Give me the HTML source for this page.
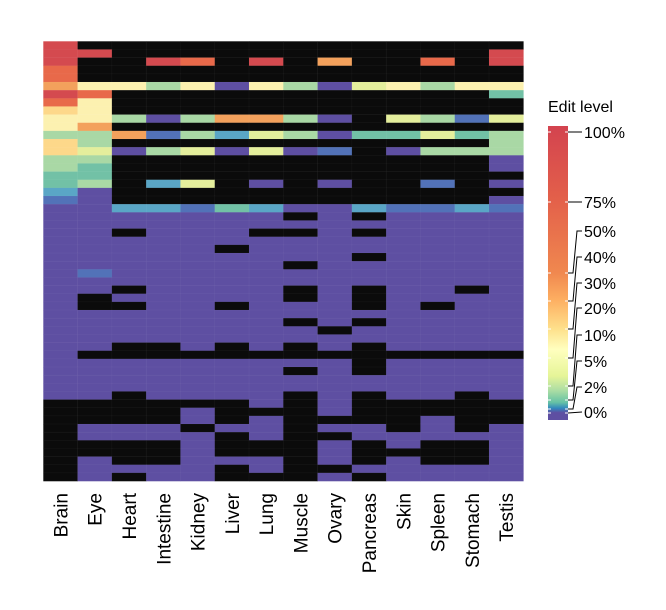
<!DOCTYPE html>
<html><head><meta charset="utf-8"><style>
html,body{margin:0;padding:0;background:#fff;}
svg{display:block;font-family:"Liberation Sans",Arial,sans-serif;}
</style></head><body>
<svg id="chart" width="666" height="610" viewBox="0 0 666 610">
<defs>
<linearGradient id="cbar" x1="0" y1="1" x2="0" y2="0">
<stop offset="0" stop-color="#5e4fa2"/>
<stop offset="0.025" stop-color="#5e4fa2"/>
<stop offset="0.04" stop-color="#3288bd"/>
<stop offset="0.06" stop-color="#66c2a5"/>
<stop offset="0.1" stop-color="#abdda4"/>
<stop offset="0.15" stop-color="#e6f598"/>
<stop offset="0.24" stop-color="#ffffbf"/>
<stop offset="0.31" stop-color="#fee08b"/>
<stop offset="0.41" stop-color="#fdae61"/>
<stop offset="0.5" stop-color="#f0884f"/>
<stop offset="0.75" stop-color="#e3604a"/>
<stop offset="1" stop-color="#d3434f"/>
</linearGradient>
</defs>
<g id="cells"></g>
<g id="xlabels"></g>
<g id="legend">
<text x="548" y="112" font-size="16" fill="#000">Edit level</text>
<rect x="548" y="126" width="20" height="294" fill="url(#cbar)"/>
</g>
</svg>
<script>
const categories = ["Brain","Eye","Heart","Intestine","Kidney","Liver","Lung","Muscle","Ovary","Pancreas","Skin","Spleen","Stomach","Testis"];
const palette = {R:"#d44a4f",O:"#e8694a",A:"#f3a15c",W:"#fdd88a",Y:"#fcf1b0",L:"#e4ee9c",G:"#a9d8a5",T:"#72c1a6",C:"#5aa6c6",B:"#5272b8",P:"#5e4fa2",K:"#0b0b0b"};
const rows = [
"RKKKKKKKKKKKKK","RRKKKKKKKKKKKR","RKKROKRKAKKOKR","OKKKKKKKKKKKKK","OKKKKKKKKKKKKK",
"AYYGYPYGPLYGYY","ROKKKKKKKKKKKT","OYKKKKKKKKKKKK","WYKKKKKKKKKKKK","YYGPGAAGPKLGBL",
"YAKKKKKKKKKKKK","GGABGCLGPTTLTG","WGKKKKKKKKKKKG","WLPGLPLPBKPGGG","GGKKKKKKKKKKKP",
"GTKKKKKKKKKKKP","TTKKKKKKKKKKKK","TGKCLKPKPKKBKP","CPKKKKKKKKKKKK","BPKKKKKKKKKKKP",
"PPCCBTCPPCBBCB","PPPPPPPKPKPPPP","PPPPPPPPPPPPPP","PPKPPPKKPKPPPP","PPPPPPPPPPPPPP",
"PPPPPKPPPPPPPP","PPPPPPPPPKPPPP","PPPPPPPKPPPPPP","PBPPPPPPPPPPPP","PPPPPPPPPPPPPP",
"PPKPPPPKPKPPKP","PKPPPPPKPKPPPP","PKKPPKPPPKPKPP","PPPPPPPPPPPPPP","PPPPPPPKPKPPPP",
"PPPPPPPPKPPPPP","PPPPPPPPPPPPPP","PPKKPKPKPKPPPP","PKKKKKKKKKKKKK","PPPPPPPPPKPPPP",
"PPPPPPPKPKPPPP","PPPPPPPPPPPPPP","PPPPPPPPPPPPPP","PPKPPPPKPKPPKP","KKKKKKPKPKKKKK",
"KKKKPKKKPKKKKK","KKKKPKPKKKKPKK","KPPPKPPKPPKPKP","KPPPPKPKKPPPPP","KKKKPKKKPKPKKP",
"KKKKPKKKPKKKKP","KPKKPPPKPKPKKP","KPPPPKPKKPPPPP","KPKPPKKKPKPPPP"];
const tickLabels = ["100%","75%","50%","40%","30%","20%","10%","5%","2%","0%"];
const tickBarY = [132,202,273,301,329,358,386,400,409,413];
const tickLabelY = [132,202,231,257,283,308,335,361,387,412];

const NS="http://www.w3.org/2000/svg";
const X0=43.3, X1=523.3, Y0=41.3, Y1=481;
const cw=(X1-X0)/categories.length, rh=(Y1-Y0)/rows.length;
const xs=i=>X0+i*cw, ys=j=>Y0+j*rh;
const cells=document.getElementById('cells');
rows.forEach((r,j)=>{
  for(let i=0;i<categories.length;i++){
    const el=document.createElementNS(NS,'rect');
    el.setAttribute('x',xs(i));el.setAttribute('y',ys(j));
    el.setAttribute('width',cw+0.3);el.setAttribute('height',rh+0.3);
    el.setAttribute('fill',palette[r[i]]);
    el.setAttribute('stroke','rgba(255,255,255,0.06)');el.setAttribute('stroke-width','0.5');
    
    
    cells.appendChild(el);
  }
});
const xl=document.getElementById('xlabels');
categories.forEach((c,i)=>{
  const cx=xs(i)+cw/2+7, cy=493;
  const t=document.createElementNS(NS,'text');
  t.setAttribute('x',cx);t.setAttribute('y',cy);
  t.setAttribute('transform','rotate(-90 '+cx+' '+cy+')');
  t.setAttribute('text-anchor','end');t.setAttribute('font-size','19');
  t.textContent=c;
  
  
  xl.appendChild(t);
});
const lg=document.getElementById('legend');
tickLabels.forEach((lab,k)=>{
  const by=tickBarY[k], ly=tickLabelY[k];
  const m1=document.createElementNS(NS,'path');
  m1.setAttribute('d','M548 '+by+'h3M565 '+by+'h3');
  m1.setAttribute('stroke','#fff');m1.setAttribute('stroke-width','1');
  
  
  lg.appendChild(m1);
  const p=document.createElementNS(NS,'polyline');
  const pts=Math.abs(by-ly)<2?('568,'+by+' 582,'+ly):('568,'+by+' 573,'+by+' 577,'+ly+' 582,'+ly);
  p.setAttribute('points',pts);p.setAttribute('fill','none');
  p.setAttribute('stroke','#000');p.setAttribute('stroke-width','1');
  
  
  lg.appendChild(p);
  const t=document.createElementNS(NS,'text');
  t.setAttribute('x',584);t.setAttribute('y',ly+6);t.setAttribute('font-size','16');
  t.textContent=lab;
  
  
  lg.appendChild(t);
});
</script>
</body></html>
